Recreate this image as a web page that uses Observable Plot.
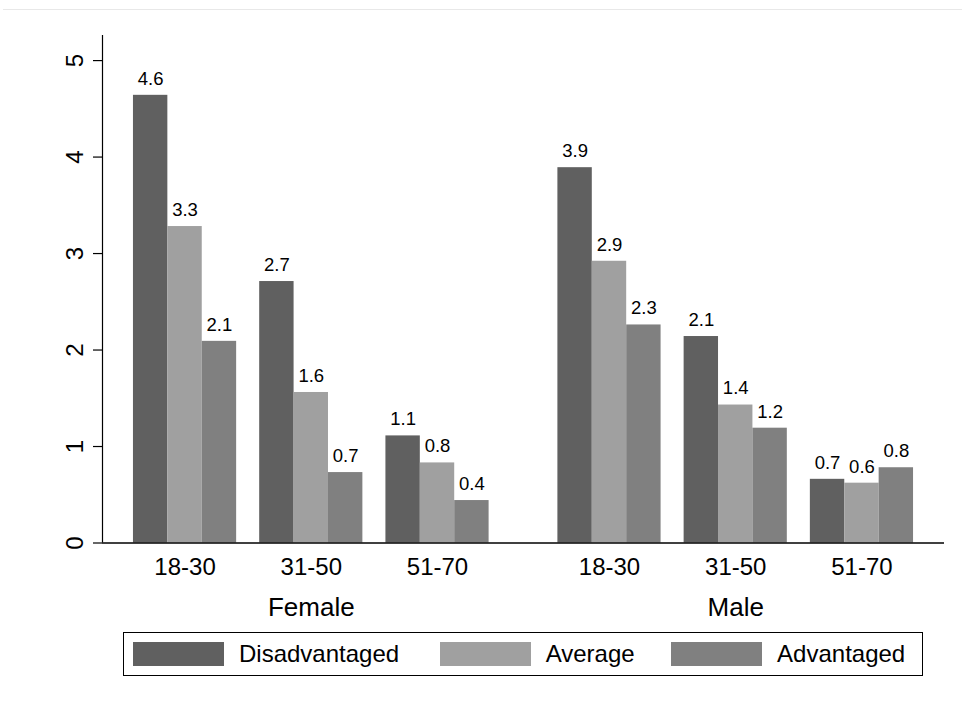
<!DOCTYPE html>
<html>
<head>
<meta charset="utf-8">
<script src="https://cdn.jsdelivr.net/npm/d3@7"></script>
<script src="https://cdn.jsdelivr.net/npm/@observablehq/plot@0.6"></script>
<style>
  html, body { margin: 0; padding: 0; background: #fff; }
  body { width: 962px; height: 702px; position: relative; overflow: hidden; font-family: "Liberation Sans", Arial, sans-serif; }
  #topline { position: absolute; left: 3px; right: 0; top: 9px; border-top: 1px solid #e8e8e8; }
  #chart svg { display: block; }
  #legend { position: absolute; left: 122.5px; top: 631.5px; width: 800px; height: 44px; box-sizing: border-box;
            border: 1.5px solid #000; display: flex; align-items: center; padding-left: 9.5px; font-size: 24px; color: #000; }
  .item { display: flex; align-items: center; }
  .sw { width: 91px; height: 24px; margin-right: 15px; }
</style>
</head>
<body>
<div id="topline"></div>
<div id="chart"></div>
<div id="legend"></div>
<script>
// ---- data ----
const sexes = ["Female", "Male"];
const ages = ["18-30", "31-50", "51-70"];
const categories = ["Disadvantaged", "Average", "Advantaged"];
// values ordered Female 18-30, 31-50, 51-70, Male 18-30, 31-50, 51-70
const disadvantaged = [4.64, 2.71, 1.11, 3.89, 2.14, 0.66];
const average       = [3.28, 1.56, 0.83, 2.92, 1.43, 0.62];
const advantaged    = [2.09, 0.73, 0.44, 2.26, 1.19, 0.78];
const yTicks = [0, 1, 2, 3, 4, 5];
const colors = ["#606060", "#a0a0a0", "#808080"];

// ---- layout (in bar-width units) ----
const ageGap = 0.67, sexGap = 2.0;
const groupStep = categories.length + ageGap;
const sexStep = ages.length * categories.length + (ages.length - 1) * ageGap + sexGap;
const series = [disadvantaged, average, advantaged];

const table = [];
sexes.forEach((sex, s) => ages.forEach((age, a) => categories.forEach((cat, c) => {
  const x1 = s * sexStep + a * groupStep + c;
  table.push({sex, age, category: cat, value: series[c][s * ages.length + a], x1, x2: x1 + 1});
})));
const groups = [];
sexes.forEach((sex, s) => ages.forEach((age, a) => {
  groups.push({sex, age, center: s * sexStep + a * groupStep + categories.length / 2});
}));
const sexCenters = sexes.map((sex, s) => ({sex, center: s * sexStep + (ages.length * categories.length + (ages.length - 1) * ageGap) / 2}));

const xMin = -0.9;
const xMax = sexStep + ages.length * categories.length + (ages.length - 1) * ageGap + 0.9;

const plot = Plot.plot({
  width: 962,
  height: 628,
  marginTop: 35,
  marginBottom: 85.5,
  marginLeft: 102,
  marginRight: 18,
  style: {fontFamily: "'Liberation Sans', Arial, sans-serif", color: "#000", background: "#fff"},
  x: {type: "linear", domain: [xMin, xMax], axis: null},
  y: {domain: [0, 5.26], axis: null},
  color: {domain: categories, range: colors},
  marks: [
    Plot.rectY(table, {x1: "x1", x2: "x2", y: "value", fill: "category", inset: 0}),
    Plot.text(table, {x: d => (d.x1 + d.x2) / 2, y: "value", text: d => d3.format(".1f")(d.value),
                      dy: -16.5, fontSize: 18.5, fill: "#000", lineAnchor: "middle"}),
    Plot.axisY({ticks: yTicks, tickSize: 9, tickFormat: () => "", label: null, stroke: "#000", strokeWidth: 1.2}),
    Plot.text(yTicks, {y: d => d, frameAnchor: "left", dx: -27.5, rotate: -90, text: d => String(d),
                       textAnchor: "middle", lineAnchor: "middle", fontSize: 24, fill: "#000"}),
    Plot.ruleX([xMin], {stroke: "#000", strokeWidth: 1.2}),
    Plot.ruleY([0], {stroke: "#000", strokeWidth: 1.5}),
    Plot.text(groups, {x: "center", frameAnchor: "bottom", dy: 24.5, text: "age", lineAnchor: "middle",
                       fontSize: 24, fill: "#000"}),
    Plot.text(sexCenters, {x: "center", frameAnchor: "bottom", dy: 64.5, text: "sex", lineAnchor: "middle",
                           fontSize: 26, fill: "#000"})
  ]
});
document.getElementById("chart").appendChild(plot);

// legend
const legend = d3.select("#legend");
const margins = [0, 40.5, 36.5];
categories.forEach((cat, i) => {
  const it = legend.append("div").attr("class", "item").style("margin-left", margins[i] + "px");
  it.append("div").attr("class", "sw").style("background", colors[i]);
  it.append("span").text(cat);
});
</script>
</body>
</html>
